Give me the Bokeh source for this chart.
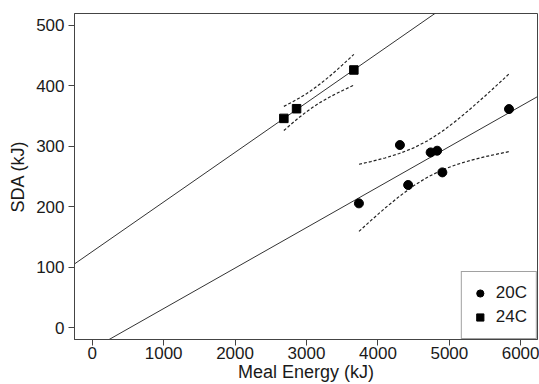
from bokeh.plotting import figure
from bokeh.models import Range1d, FixedTicker, Legend, LegendItem
from bokeh.embed import file_html
from bokeh.resources import INLINE

# ---- data ----
x20 = [3734, 4308, 4423, 4738, 4829, 4902, 5835]
y20 = [205.6, 302, 236, 289.8, 292.6, 256.8, 361.4]
x24 = [2683, 2861, 3663]
y24 = [346, 362, 426]

# regression lines (intercept, slope)
int20, slope20 = -35.1, 0.0669
int24, slope24 = 125.9, 0.082
line_x = [-300, 6300]

# confidence bands
band24_x = [2683, 2800, 2900, 3000, 3100, 3200, 3300, 3400, 3500, 3600, 3663]
band24_hi = [365.9, 373.0, 379.6, 386.8, 394.9, 403.7, 413.3, 423.4, 434.0, 444.8, 451.8]
band24_lo = [325.9, 338.0, 347.8, 357.0, 365.3, 372.9, 379.7, 386.0, 391.8, 397.4, 400.8]
band20_x = [3735, 3900, 4100, 4300, 4500, 4700, 4900, 5100, 5300, 5500, 5700, 5837]
band20_hi = [270.2, 274.6, 280.6, 288.0, 297.2, 309.3, 324.6, 342.5, 362.3, 383.1, 404.6, 419.7]
band20_lo = [159.4, 177.1, 197.8, 217.2, 234.7, 249.3, 260.8, 269.7, 276.8, 282.7, 287.8, 291.1]

x_ticks = [0, 1000, 2000, 3000, 4000, 5000, 6000]
y_ticks = [0, 100, 200, 300, 400, 500]

FONT = "Liberation Sans"
TXT = "#1a1a1a"
AX = "#444444"

p = figure(width=539, height=384, output_backend="svg", toolbar_location=None,
           x_range=Range1d(-248, 6234), y_range=Range1d(-19.3, 519.3),
           min_border_left=74, min_border_right=2, min_border_top=13, min_border_bottom=45)

p.xgrid.visible = False
p.ygrid.visible = False
p.outline_line_color = AX
p.outline_line_width = 1
p.background_fill_color = "white"
p.border_fill_color = "white"

for ax, ticks in ((p.xaxis, x_ticks), (p.yaxis, y_ticks)):
    ax.ticker = FixedTicker(ticks=ticks)
    ax.minor_tick_line_color = None
    ax.major_tick_in = 0
    ax.major_tick_out = 6
    ax.axis_line_color = AX
    ax.major_tick_line_color = AX
    ax.major_label_text_font = FONT
    ax.major_label_text_font_size = "17px"
    ax.major_label_text_color = TXT
    ax.axis_label_text_font = FONT
    ax.axis_label_text_font_size = "18px"
    ax.axis_label_text_font_style = "normal"
    ax.axis_label_text_color = TXT

p.xaxis.axis_label = "Meal Energy (kJ)"
p.yaxis.axis_label = "SDA (kJ)"
p.xaxis.major_label_standoff = 1
p.xaxis.axis_label_standoff = 0
p.yaxis.major_label_standoff = 4
p.yaxis.axis_label_standoff = 5

# regression lines
p.line(line_x, [int20 + slope20 * x for x in line_x], line_color="#333333", line_width=1)
p.line(line_x, [int24 + slope24 * x for x in line_x], line_color="#333333", line_width=1)

# confidence bands
for bx, by in ((band24_x, band24_hi), (band24_x, band24_lo), (band20_x, band20_hi), (band20_x, band20_lo)):
    p.line(bx, by, line_color="#222222", line_width=1.2, line_dash="3 2")

c = p.scatter(x20, y20, marker="circle", size=9, fill_color="black", line_color="black")
s = p.scatter(x24, y24, marker="square", size=8.5, fill_color="black", line_color="black")

legend = Legend(items=[LegendItem(label="20C", renderers=[c]), LegendItem(label="24C", renderers=[s])],
                location="bottom_right", margin=0, padding=9, spacing=0,
                glyph_width=18, glyph_height=24, label_standoff=7, label_height=24,
                label_text_font=FONT, label_text_font_size="17px", label_text_color=TXT,
                border_line_color=AX, border_line_width=1, background_fill_color="white",
                background_fill_alpha=1)
p.add_layout(legend, "center")

open("out.html", "w").write(file_html(p, INLINE))
